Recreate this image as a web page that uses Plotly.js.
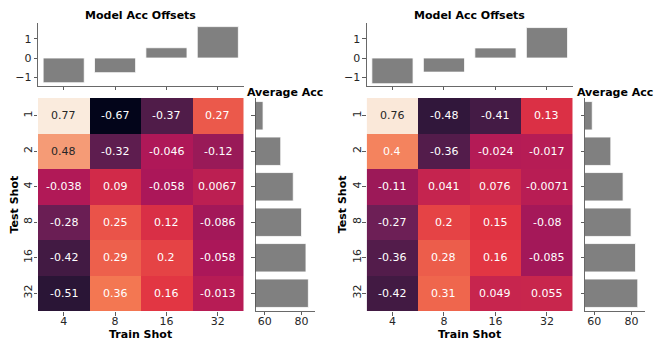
<!DOCTYPE html>
<html>
<head>
<meta charset="utf-8">
<script src="https://cdn.plot.ly/plotly-3.0.1.min.js"></script>
<style>
  html, body { margin: 0; padding: 0; background: #fff; }
  #chart { width: 664px; height: 352px; }
</style>
</head>
<body>
<div id="chart"></div>
<script>
// --- data ---
const trainShots = ['4', '8', '16', '32'];
const testShots = ['1', '2', '4', '8', '16', '32'];

// rows = test shot, cols = train shot
const leftGrid = [
    [0.77, -0.67, -0.37, 0.27],
    [0.48, -0.32, -0.046, -0.12],
    [-0.038, 0.09, -0.058, 0.0067],
    [-0.28, 0.25, 0.12, -0.086],
    [-0.42, 0.29, 0.2, -0.058],
    [-0.51, 0.36, 0.16, -0.013]
];
const rightGrid = [
    [0.76, -0.48, -0.41, 0.13],
    [0.4, -0.36, -0.024, -0.017],
    [-0.11, 0.041, 0.076, -0.0071],
    [-0.27, 0.2, 0.15, -0.08],
    [-0.36, 0.28, 0.16, -0.085],
    [-0.42, 0.31, 0.049, 0.055]
];
const leftOffsets = [-1.30, -0.77, 0.54, 1.65];
const rightOffsets = [-1.35, -0.74, 0.53, 1.60];
const leftAvgAcc = [59.1, 68.7, 75.5, 80.0, 82.4, 83.7];
const rightAvgAcc = [58.9, 68.9, 75.5, 79.8, 82.2, 83.4];

// seaborn "rocket"
const rocket = [
    [0, '#03051a'], [0.143, '#35193e'], [0.286, '#701f57'], [0.429, '#ad1759'],
    [0.571, '#e13342'], [0.714, '#f37651'], [0.857, '#f6b48f'], [1, '#faebdd']
];

const W = 664, H = 352;
const FONT = 'DejaVu Sans';
const px = v => v / W;
const py = v => 1 - v / H;

// shared colour range over both grids
const allVals = leftGrid.flat().concat(rightGrid.flat());
const zmin = Math.min(...allVals);
const zmax = Math.max(...allVals);

function hexRgb(h) {
    return [1, 3, 5].map(i => parseInt(h.substr(i, 2), 16));
}
function rocketAt(t) {
    for (let i = 1; i < rocket.length; i++) {
        if (t <= rocket[i][0]) {
            const a = hexRgb(rocket[i - 1][1]), b = hexRgb(rocket[i][1]);
            const f = (t - rocket[i - 1][0]) / (rocket[i][0] - rocket[i - 1][0]);
            return a.map((c, k) => c + (b[k] - c) * f);
        }
    }
    return hexRgb(rocket[rocket.length - 1][1]);
}
function luminance(rgb) {
    const lin = rgb.map(c => {
        c /= 255;
        return c <= 0.03928 ? c / 12.92 : Math.pow((c + 0.055) / 1.055, 2.4);
    });
    return 0.2126 * lin[0] + 0.7152 * lin[1] + 0.0722 * lin[2];
}

const axKey = (p, n) => n === 1 ? p + 'axis' : p + 'axis' + n;
const axRef = (p, n) => n === 1 ? p : p + n;

const traces = [];
const annotations = [];
const layout = {
    width: W, height: H,
    margin: { l: 0, r: 0, t: 0, b: 0 },
    paper_bgcolor: '#fff', plot_bgcolor: '#fff',
    showlegend: false,
    font: { family: FONT, size: 11, color: '#262626' }
};

const tickStyle = { ticks: 'outside', ticklen: 3.5, tickwidth: 0.8, tickcolor: '#333',
    showgrid: false, zeroline: false, tickfont: { family: FONT, size: 11, color: '#262626' } };
const spine = { showline: true, linecolor: '#444', linewidth: 0.8 };

function addPanel(first, grid, offsets, avgAcc, geo) {
    const hx = first, bx = first + 1, rx = first + 2;
    const heatDomX = [px(geo.heatL), px(geo.heatR)];
    const heatDomY = [py(geo.heatB), py(geo.heatT)];

    // heatmap
    traces.push({
        type: 'heatmap', x: trainShots, y: testShots, z: grid,
        colorscale: rocket, zmin: zmin, zmax: zmax, showscale: false,
        xaxis: axRef('x', hx), yaxis: axRef('y', hx), hoverinfo: 'skip'
    });
    layout[axKey('x', hx)] = Object.assign({}, tickStyle, {
        domain: heatDomX, anchor: axRef('y', hx), type: 'category', range: [-0.5, 3.5],
        ticklabelstandoff: -4
    });
    layout[axKey('y', hx)] = Object.assign({}, tickStyle, {
        domain: heatDomY, anchor: axRef('x', hx), type: 'category', range: [5.5, -0.5],
        tickangle: -90, ticklabelstandoff: -3
    });
    // cell labels, placed by category index
    grid.forEach((row, i) => row.forEach((v, j) => {
        const lum = luminance(rocketAt((v - zmin) / (zmax - zmin)));
        annotations.push({
            xref: axRef('x', hx), yref: axRef('y', hx), x: j, y: i,
            xanchor: 'center', yanchor: 'middle',
            text: String(v), showarrow: false,
            font: { family: FONT, size: 11, color: lum > 0.408 ? '#262626' : '#ffffff' }
        });
    }));

    // top bars: model acc offsets
    traces.push({
        type: 'bar', x: trainShots, y: offsets, width: 0.8,
        marker: { color: '#808080', line: { color: '#ffffff', width: 0.8 } },
        xaxis: axRef('x', bx), yaxis: axRef('y', bx), hoverinfo: 'skip'
    });
    layout[axKey('x', bx)] = Object.assign({}, tickStyle, spine, {
        domain: heatDomX, anchor: axRef('y', bx), type: 'category', range: [-0.5, 3.5],
        showticklabels: false
    });
    layout[axKey('y', bx)] = Object.assign({}, tickStyle, spine, {
        domain: [py(86), py(23)], anchor: axRef('x', bx), range: [-1.47, 1.84],
        tickvals: [-1, 0, 1]
    });

    // right bars: average acc
    traces.push({
        type: 'bar', orientation: 'h', x: avgAcc, y: testShots, width: 0.8,
        marker: { color: '#808080', line: { color: '#ffffff', width: 0.8 } },
        xaxis: axRef('x', rx), yaxis: axRef('y', rx), hoverinfo: 'skip'
    });
    layout[axKey('x', rx)] = Object.assign({}, tickStyle, spine, {
        domain: [px(geo.barL), px(geo.barR)], anchor: axRef('y', rx), range: [55, 87.3],
        tickvals: [60, 80], ticklabelstandoff: -4
    });
    layout[axKey('y', rx)] = Object.assign({}, tickStyle, spine, {
        domain: heatDomY, anchor: axRef('x', rx), type: 'category', range: [5.5, -0.5],
        showticklabels: false
    });

    const bold = { family: FONT, size: 11, color: '#000' };
    const mid = (geo.heatL + geo.heatR) / 2;
    const title = (x, y, text, angle) => ({
        xref: 'paper', yref: 'paper', x: px(x), y: py(y), xanchor: 'center', yanchor: 'middle',
        text: '<b>' + text + '</b>', textangle: angle || 0, showarrow: false, font: bold
    });
    annotations.push(
        title(mid, 16, 'Model Acc Offsets'),
        title((geo.barL + geo.barR) / 2, 92, 'Average Acc'),
        title(geo.heatL - 24, (geo.heatT + geo.heatB) / 2, 'Test Shot', -90),
        title(mid, 334, 'Train Shot')
    );
}

addPanel(1, leftGrid, leftOffsets, leftAvgAcc,
    { heatL: 38, heatR: 243.5, heatT: 98, heatB: 311, barL: 255.5, barR: 315 });
addPanel(4, rightGrid, rightOffsets, rightAvgAcc,
    { heatL: 366.7, heatR: 572.7, heatT: 98, heatB: 311, barL: 585, barR: 645 });

layout.annotations = annotations;

Plotly.newPlot('chart', traces, layout, { displayModeBar: false, staticPlot: true });
</script>
</body>
</html>
